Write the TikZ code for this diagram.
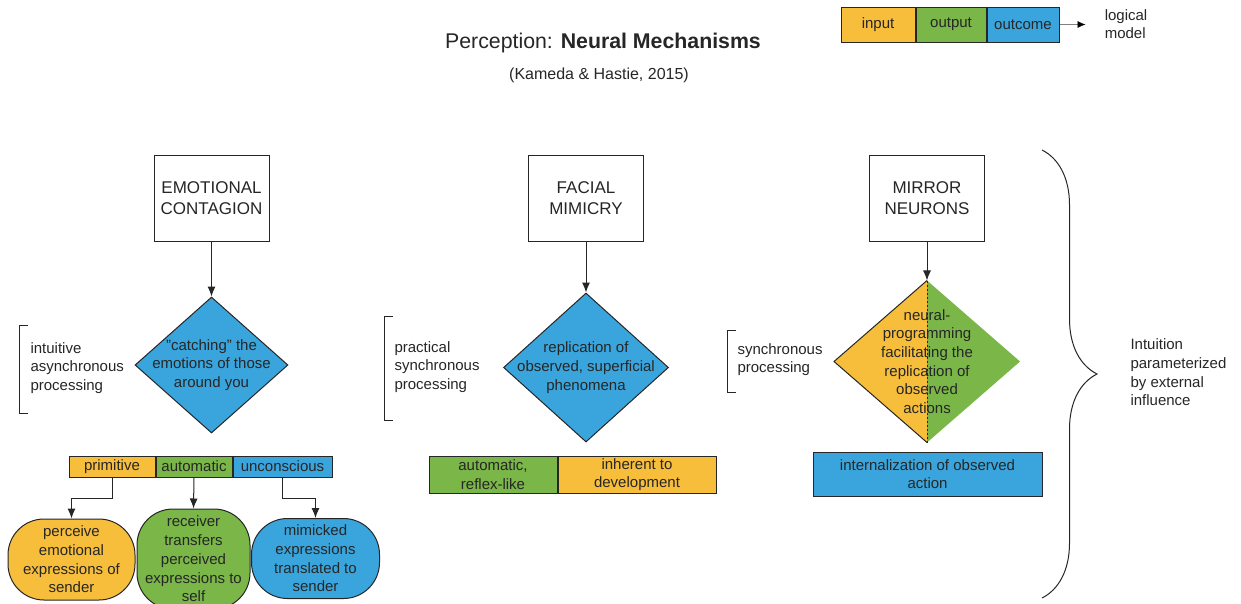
\documentclass[tikz,border=0pt]{standalone}
\usepackage{fontspec}
\setmainfont{Liberation Sans}
\usetikzlibrary{shapes.geometric,positioning,arrows.meta,decorations.pathreplacing}
\definecolor{yel}{RGB}{247,190,60}
\definecolor{grn}{RGB}{122,182,72}
\definecolor{blu}{RGB}{58,165,220}
\definecolor{ink}{RGB}{38,38,38}
\begin{document}
\begin{tikzpicture}[x=1pt,y=-1pt,line width=1pt,color=ink,
  every node/.style={font=\fontsize{15}{18.7}\selectfont},
  head/.style={draw,fill=white,minimum width=115,minimum height=86,font=\fontsize{17}{21}\selectfont,align=center},
  dia/.style={diamond,inner sep=0pt},
  cell/.style={draw,fill=#1,inner sep=0pt,align=center},
  blob/.style={draw,fill=#1,rounded corners=36,inner sep=0pt,align=center},
  lbl/.style={anchor=west,align=left,inner sep=0pt},
  arr/.style={-{Latex[length=10pt,width=8pt]}}]
\useasboundingbox (0,0) rectangle (1241,603);
\node[font=\fontsize{21.3}{25}\selectfont] (title) at (603,43) {Perception: \textbf{Neural Mechanisms}};
\node[font=\fontsize{16}{19}\selectfont] (cite) at (599,75) {(Kameda \& Hastie, 2015)};
\node[cell=yel,minimum width=74,minimum height=35] (in) at (878,24.5) {input};
\node[cell=grn,minimum width=70,minimum height=35,right=0pt of in] (out) {output};
\node[cell=blu,minimum width=72,minimum height=35,right=0pt of out] (oc) {outcome};
\coordinate[right=26pt of oc] (lm);
\draw[gray,line width=.6pt,-{Latex[length=8pt,width=7pt,black]}] (oc) -- (lm);
\node[align=left,inner sep=0pt] (logic) at (1126,24) {logical\\model};
\node[head] (emo) at (211.5,198) {EMOTIONAL\\CONTAGION};
\node[head] (fac) at (586,198.5) {FACIAL\\MIMICRY};
\node[head] (mir) at (927,198.5) {MIRROR\\NEURONS};
\node[dia,draw,fill=blu,minimum width=153,minimum height=136] (catch) at (211.5,365) {};
\node[align=center] (catchtxt) at (catch) {"catching" the\\emotions of those\\around you};
\node[dia,draw,fill=blu,minimum width=165,minimum height=149] (repl) at (586,367.5) {};
\node[align=center] (repltxt) at (repl) {replication of\\observed, superficial\\phenomena};
\node[dia,minimum width=185,minimum height=161] (neur) at (927,361.5) {};
\fill[yel] (neur.north) -- (neur.west) -- (neur.south) -- cycle;
\fill[grn] (neur.north) -- (neur.east) -- (neur.south) -- cycle;
\draw (neur.north) -- (neur.west) -- (neur.south);
\draw[line width=.6pt,dash pattern=on 2pt off 2pt] (neur.north) -- (neur.south);
\node[align=center] (neurtxt) at (neur) {neural-\\programming\\facilitating the\\replication of\\observed\\actions};
\draw[arr] (emo) -- (catch);
\draw[arr] (fac) -- (repl);
\draw[arr] (mir) -- (neur);
\node[cell=yel,minimum width=86,minimum height=21] (prim) at (112,466.5) {primitive};
\node[cell=grn,minimum width=76,minimum height=21,right=0pt of prim] (auto) {automatic};
\node[cell=blu,minimum width=99,minimum height=21,right=0pt of auto] (unc) {unconscious};
\node[blob=yel,minimum width=127,minimum height=81] (send) at (71.5,559.5) {perceive\\emotional\\expressions of\\sender};
\node[blob=grn,minimum width=113,minimum height=100] (self) at (193.5,559) {receiver\\transfers\\perceived\\expressions to\\self};
\node[blob=blu,minimum width=128,minimum height=80] (mimic) at (315.5,558.5) {mimicked\\expressions\\translated to\\sender};
\draw[arr] (prim.south) -- ++(0,21) -| (send.north);
\draw[arr] (auto.south) -- (self.north);
\draw[arr] (unc.south) -- ++(0,21) -| (mimic.north);
\node[cell=grn,minimum width=128,minimum height=37] (refl) at (493,474.5) {automatic,\\reflex-like};
\node[cell=yel,minimum width=158,minimum height=37,right=0pt of refl] (dev) {inherent to\\development};
\node[cell=blu,minimum width=229,minimum height=44] (intl) at (927.5,474) {internalization of observed\\action};
\node[lbl] (intu) at (30,368) {intuitive\\asynchronous\\processing};
\draw (28,325) -- (19,325) -- (19,413) -- (28,413);
\node[lbl] (prac) at (394,367) {practical\\synchronous\\processing};
\draw (393,316) -- (384,316) -- (384,420) -- (393,420);
\node[lbl] (sync) at (737,359.5) {synchronous\\processing};
\draw (736,330) -- (727,330) -- (727,392) -- (736,392);
\draw[decorate,decoration={brace,amplitude=55pt}] (1042,150) -- (1042,598);
\node[lbl] (intuit) at (1130,372.5) {Intuition\\parameterized\\by external\\influence};
\end{tikzpicture}
\end{document}
